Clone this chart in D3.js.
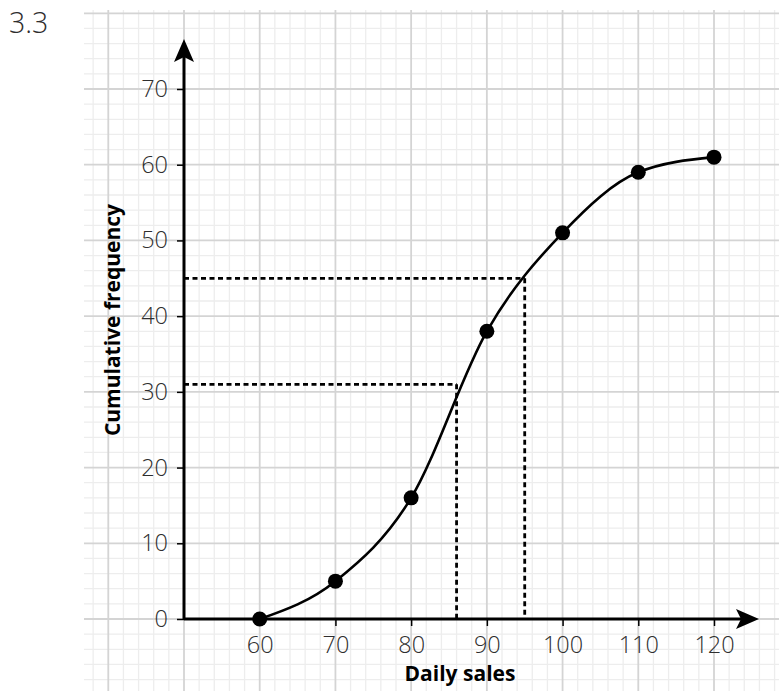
<!DOCTYPE html>
<html>
<head>
<meta charset="utf-8">
<script src="https://cdn.jsdelivr.net/npm/d3@7"></script>
<style>
  body { margin: 0; background: #fff; }
  svg { display: block; font-family: "Open Sans", sans-serif; }
</style>
</head>
<body>
<svg id="chart" width="779" height="691"></svg>
<script>
const sales = [60, 70, 80, 90, 100, 110, 120];
const cumFreq = [0, 5, 16, 38, 51, 59, 61];
const xTicks = [60, 70, 80, 90, 100, 110, 120];
const yTicks = [0, 10, 20, 30, 40, 50, 60, 70];
// read-off lines: frequency -> sales
const guideFreq = [31, 45];
const guideSales = [86, 95];

const svg = d3.select("#chart");
const width = 779, height = 691;

const x = d3.scaleLinear().domain([50, 120]).range([184, 714]);
const y = d3.scaleLinear().domain([0, 70]).range([619, 89]);

// grid paper
const gridLeft = 84, gridTop = 10;
const grid = svg.append("g");
const xGrid = d3.range(38, 130, 2);
const yGrid = d3.range(-8, 82, 2);
const minor = v => v % 10 !== 0;

grid.selectAll(".vmin").data(xGrid.filter(minor)).join("line")
    .attr("x1", d => x(d)).attr("x2", d => x(d))
    .attr("y1", gridTop).attr("y2", height)
    .attr("stroke", "#ededed").attr("stroke-width", 1.3);
grid.selectAll(".hmin").data(yGrid.filter(minor)).join("line")
    .attr("y1", d => y(d)).attr("y2", d => y(d))
    .attr("x1", gridLeft).attr("x2", width)
    .attr("stroke", "#ededed").attr("stroke-width", 1.3);
grid.selectAll(".vmaj").data(xGrid.filter(d => !minor(d))).join("line")
    .attr("x1", d => x(d)).attr("x2", d => x(d))
    .attr("y1", gridTop).attr("y2", height)
    .attr("stroke", "#d4d4d4").attr("stroke-width", 1.8);
grid.selectAll(".hmaj").data(yGrid.filter(d => !minor(d))).join("line")
    .attr("y1", d => y(d)).attr("y2", d => y(d))
    .attr("x1", gridLeft).attr("x2", width)
    .attr("stroke", "#d4d4d4").attr("stroke-width", 1.8);

// dashed read-off lines
const guides = svg.append("g")
    .attr("stroke", "#000").attr("stroke-width", 2.8)
    .attr("stroke-dasharray", "5,3.5").attr("fill", "none");
guideFreq.forEach((f, i) => {
    guides.append("line")
        .attr("x1", x(50)).attr("x2", x(guideSales[i]))
        .attr("y1", y(f)).attr("y2", y(f));
    guides.append("line")
        .attr("x1", x(guideSales[i])).attr("x2", x(guideSales[i]))
        .attr("y1", y(f)).attr("y2", y(0));
});

// axes
const tickStyle = g => {
    g.select(".domain").remove();
    g.selectAll(".tick line").attr("stroke", "#000").attr("stroke-width", 1.5);
    g.selectAll(".tick text")
        .attr("fill", "#2e2e2e")
        .style("font-family", "'Open Sans', sans-serif")
        .style("font-size", "23.5px")
        .style("font-weight", 300);
};

svg.append("g")
    .attr("transform", `translate(0,${y(0)})`)
    .call(d3.axisBottom(x).tickValues(xTicks).tickSize(7).tickPadding(10))
    .call(tickStyle);

svg.append("g")
    .attr("transform", `translate(${x(50)},0)`)
    .call(d3.axisLeft(y).tickValues(yTicks).tickSize(7).tickPadding(9))
    .call(tickStyle);

const axisLines = svg.append("g");
axisLines.append("line")
    .attr("x1", x(50)).attr("x2", 745)
    .attr("y1", y(0)).attr("y2", y(0))
    .attr("stroke", "#000").attr("stroke-width", 3);
axisLines.append("line")
    .attr("x1", x(50)).attr("x2", x(50))
    .attr("y1", y(0)).attr("y2", 54)
    .attr("stroke", "#000").attr("stroke-width", 3);
// arrow heads
axisLines.append("path")
    .attr("d", `M759,${y(0)} L736,${y(0) - 10} L741,${y(0)} L736,${y(0) + 10} Z`)
    .attr("fill", "#000");
axisLines.append("path")
    .attr("d", `M${x(50)},39 L${x(50) - 10},62 L${x(50)},57 L${x(50) + 10},62 Z`)
    .attr("fill", "#000");

// ogive
const points = sales.map((s, i) => ({s, f: cumFreq[i]}));
svg.append("path")
    .datum(points)
    .attr("fill", "none")
    .attr("stroke", "#000")
    .attr("stroke-width", 2.6)
    .attr("d", d3.line().curve(d3.curveMonotoneX).x(d => x(d.s)).y(d => y(d.f)));

svg.append("g").selectAll("circle").data(points).join("circle")
    .attr("cx", d => x(d.s)).attr("cy", d => y(d.f))
    .attr("r", 7.5).attr("fill", "#000");

// labels
svg.append("text")
    .attr("x", 9).attr("y", 33)
    .attr("fill", "#2e2e2e")
    .style("font-size", "28.5px").style("font-weight", 300)
    .text("3.3");

svg.append("text")
    .attr("x", 460).attr("y", 681)
    .attr("text-anchor", "middle")
    .style("font-size", "21px").style("font-weight", 700)
    .text("Daily sales");

svg.append("text")
    .attr("transform", "rotate(-90)")
    .attr("x", -320).attr("y", 120)
    .attr("text-anchor", "middle")
    .style("font-size", "21px").style("font-weight", 700)
    .text("Cumulative frequency");
</script>
</body>
</html>
